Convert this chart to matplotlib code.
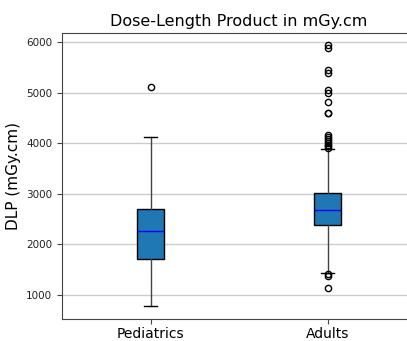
import matplotlib
matplotlib.use('Agg')
import matplotlib.pyplot as plt

# box statistics (mGy.cm)
groups = ['Pediatrics', 'Adults']
whislo = [783, 1440]
q1 = [1710, 2383]
med = [2265, 2680]
q3 = [2700, 3016]
whishi = [4120, 3890]
fliers_ped = [5110]
fliers_adu = [5940, 5880, 5450, 5390, 5050, 4990, 4815, 4600, 4590,
              4170, 4130, 4090, 4050, 4010, 3970, 3940, 3915,
              1415, 1375, 1144]

stats = []
for i, name in enumerate(groups):
    stats.append({'label': name, 'whislo': whislo[i], 'q1': q1[i], 'med': med[i],
                  'q3': q3[i], 'whishi': whishi[i],
                  'fliers': fliers_ped if i == 0 else fliers_adu})

fig = plt.figure(figsize=(4.07, 3.41), dpi=100)
ax = fig.add_axes([62/407, 1-319/341, (416-62)/407, (319-33)/341])

ax.bxp(stats, positions=[1, 2], widths=0.15, patch_artist=True,
       boxprops=dict(facecolor='#1f77b4', edgecolor='black', linewidth=1),
       medianprops=dict(color='blue', linewidth=1),
       whiskerprops=dict(color='#444444', linewidth=1),
       capprops=dict(color='black', linewidth=1),
       flierprops=dict(marker='o', markerfacecolor='none', markeredgecolor='black', markersize=4.5))

ax.set_xlim(0.5, 2.5)
ax.set_ylim(526, 6180)
ax.yaxis.grid(True, color='#cccccc', linewidth=1)
ax.set_axisbelow(True)
ax.set_title('Dose-Length Product in mGy.cm', fontsize=11.5, pad=5)
ax.set_ylabel('DLP (mGy.cm)', fontsize=11)
ax.tick_params(axis='x', labelsize=10, pad=2, colors='#444444', labelcolor='black')
ax.tick_params(axis='y', labelsize=7.5, colors='#444444', labelcolor='#222222')
for s in ax.spines.values():
    s.set_color('#444444')

fig.savefig('out.png', dpi=100)
